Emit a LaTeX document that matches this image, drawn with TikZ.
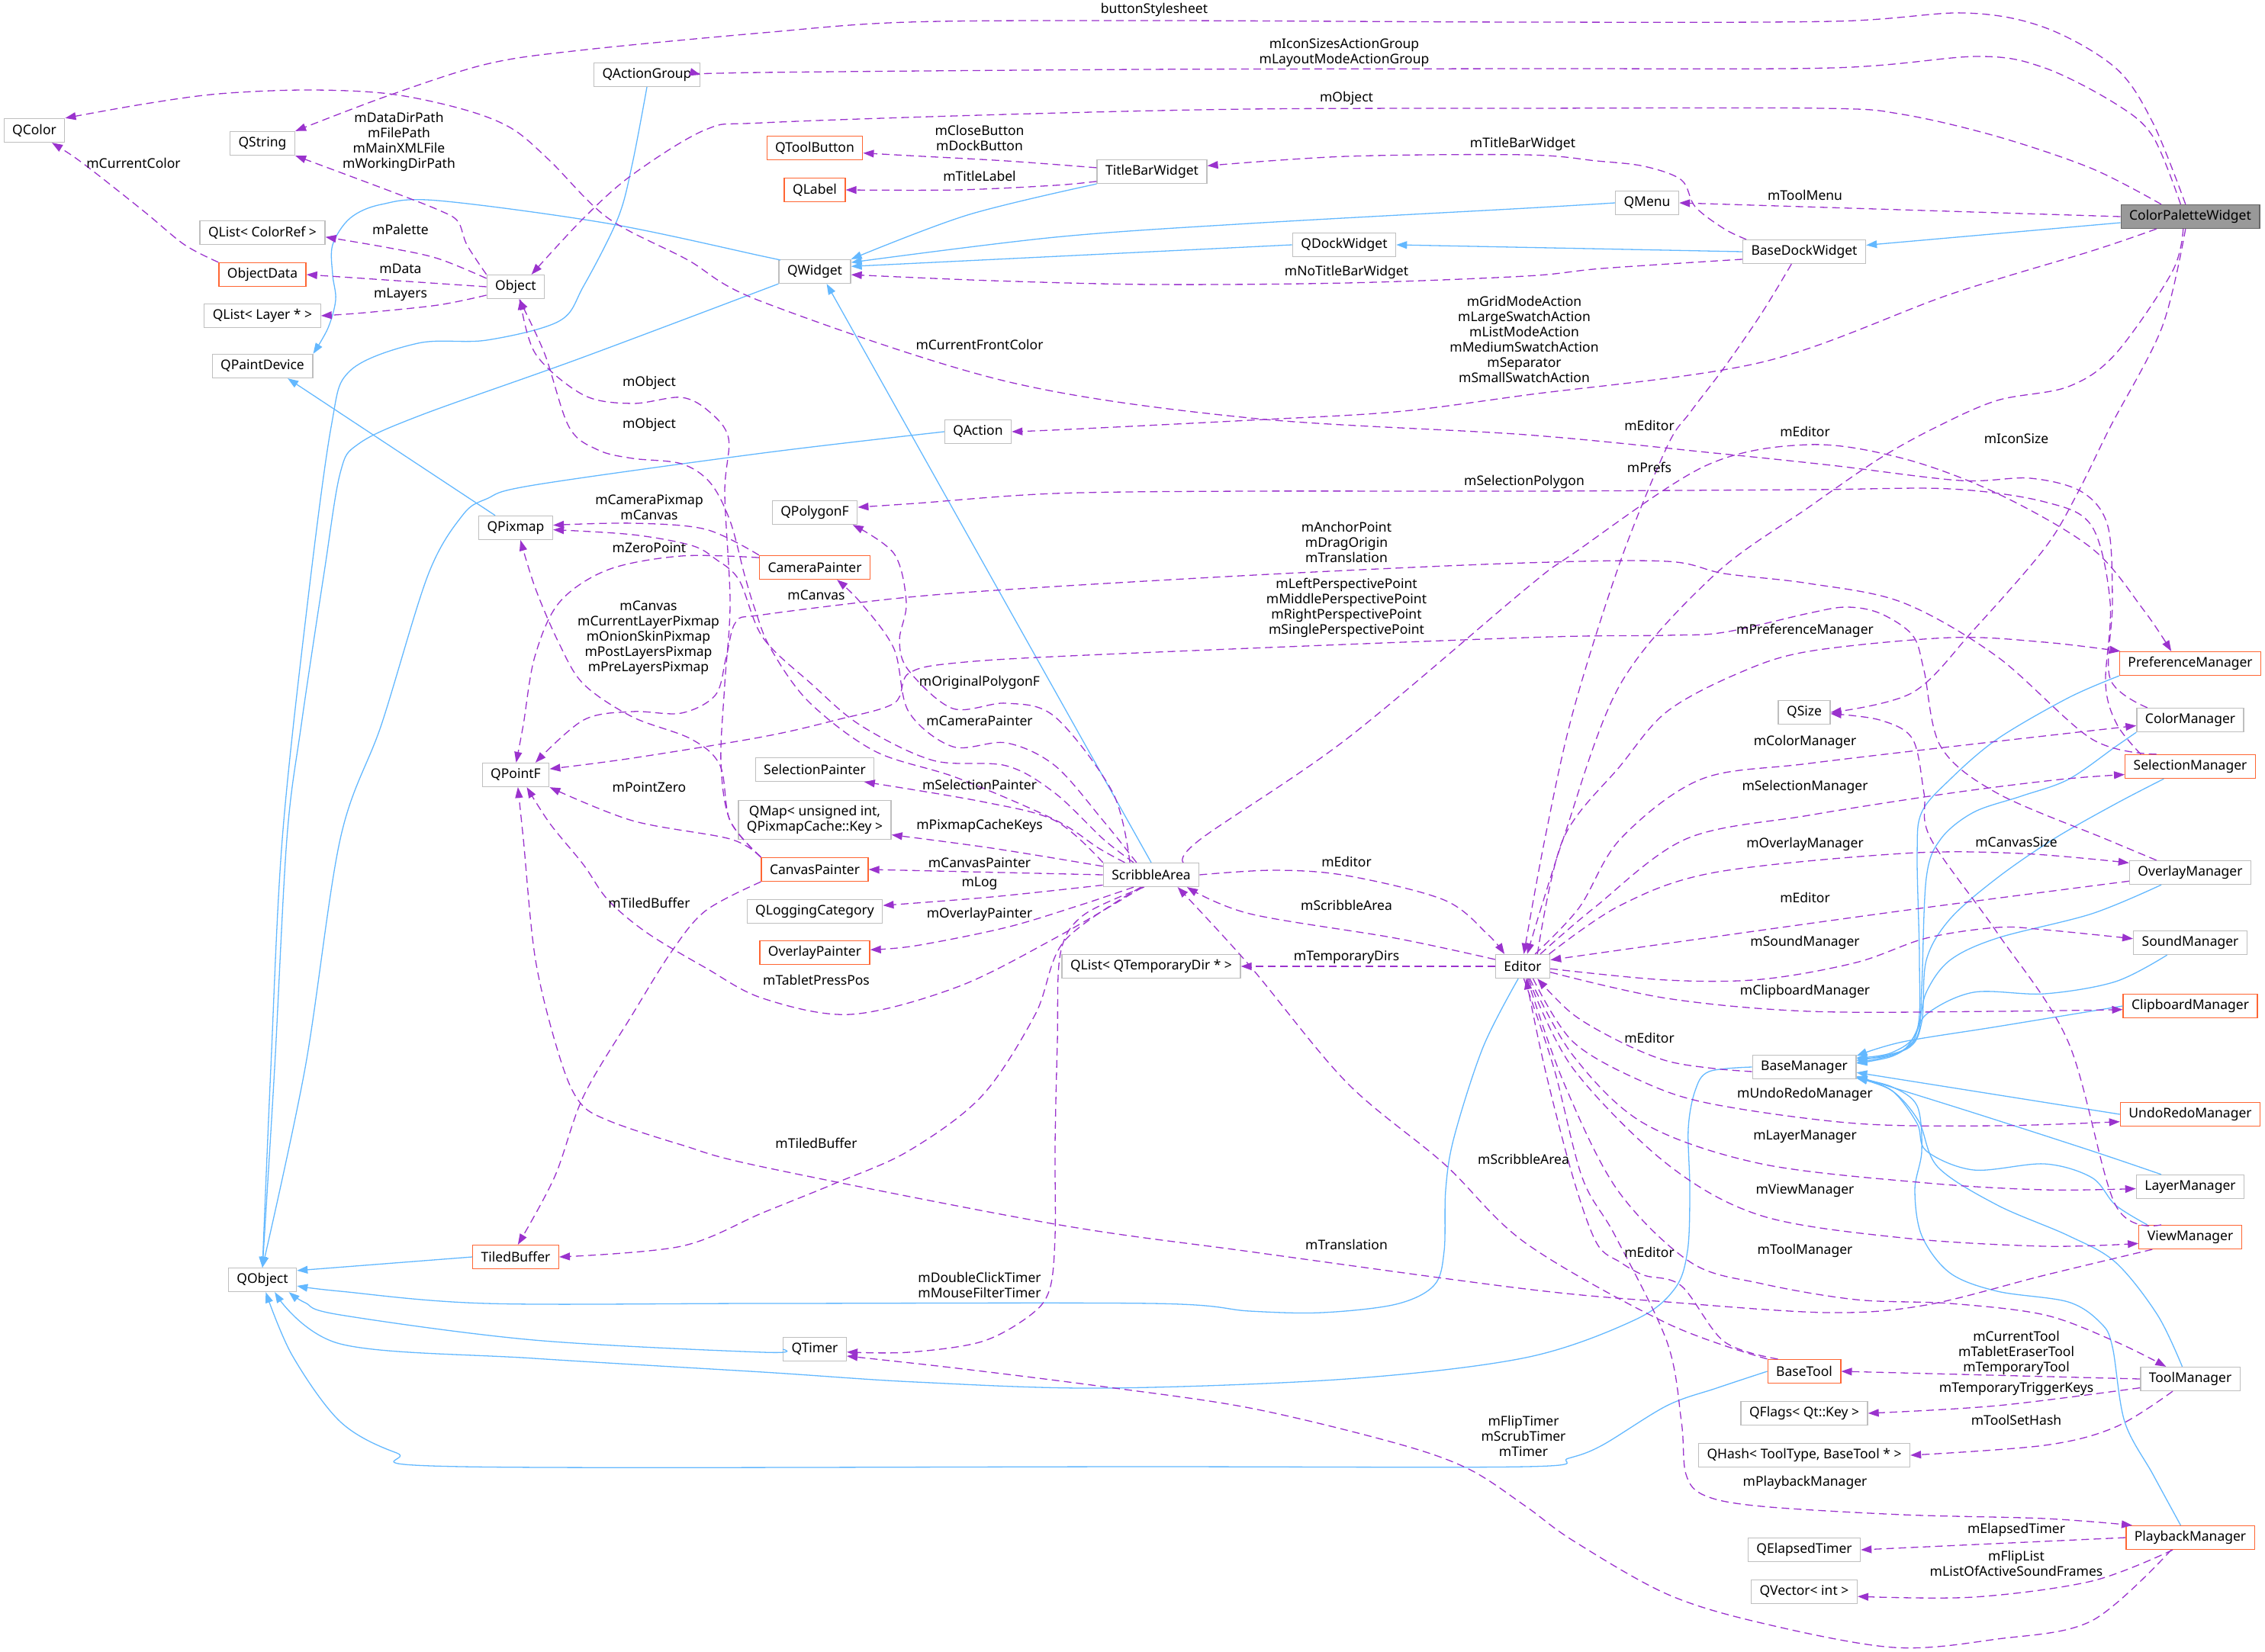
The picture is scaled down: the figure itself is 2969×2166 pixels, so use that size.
\documentclass[tikz,border=0pt]{standalone}
\usepackage{fontspec}
\newfontfamily\nf{Noto Sans}
\usetikzlibrary{arrows.meta,calc}
\definecolor{purp}{HTML}{9A32CD}
\definecolor{blu}{HTML}{63B8FF}
\definecolor{bgray}{HTML}{BFBFBF}
\definecolor{orng}{HTML}{FF6633}
\definecolor{rootfill}{HTML}{999999}
\definecolor{rootdraw}{HTML}{666666}
\begin{document}
\begin{tikzpicture}[x=0.5pt,y=-0.5pt,
 box/.style={draw=bgray, fill=white, line width=0.65pt, minimum height=15.5pt, inner xsep=5.5pt, inner ysep=0pt, font=\nf\fontsize{8.75}{10}\selectfont, align=center},
 obox/.style={box, draw=orng},
 rbox/.style={box, draw=rootdraw, fill=rootfill},
 usedge/.style={draw=purp, line width=0.65pt, dash pattern=on 5pt off 3pt, -{Triangle[length=7pt,width=5pt]}},
 inhedge/.style={draw=blu, line width=0.65pt, -{Triangle[length=7pt,width=5pt]}},
 lbl/.style={font=\nf\fontsize{8.75}{10}\selectfont, align=center, inner sep=0pt},
 sm/.style={smooth, tension=0.55}]
\useasboundingbox (0,0) rectangle (2969,2166);
% ---------------- nodes
\node[box] (qcolor) at (45,171) {QColor};
\node[box] (qstring) at (344,188) {QString};
\node[box] (qactiongroup) at (848,98) {QActionGroup};
\node[box] (qlistcolorref) at (344,305) {QList< ColorRef >};
\node[obox] (objectdata) at (344,360) {ObjectData};
\node[box] (object) at (676,376) {Object};
\node[box] (qlistlayer) at (344,414) {QList< Layer * >};
\node[box] (qpaintdevice) at (344,480) {QPaintDevice};
\node[obox] (qtoolbutton) at (1068,194) {QToolButton};
\node[obox] (qlabel) at (1068,249) {QLabel};
\node[box] (titlebar) at (1510,225) {TitleBarWidget};
\node[box] (qwidget) at (1068,356) {QWidget};
\node[box] (qdock) at (1762,321) {QDockWidget};
\node[box] (qmenu) at (2159,266) {QMenu};
\node[rbox] (cpw) at (2871,284) {ColorPaletteWidget};
\node[box] (bdw) at (2365,330) {BaseDockWidget};
\node[box] (qpixmap) at (676,692) {QPixmap};
\node[box] (qpointf) at (676,1016) {QPointF};
\node[box] (qaction) at (1282,566) {QAction};
\node[box] (qpolygonf) at (1068,672) {QPolygonF};
\node[obox] (camerapainter) at (1068,744) {CameraPainter};
\node[box] (selectionpainter) at (1068,1009) {SelectionPainter};
\node[box, minimum height=25.5pt] (qmap) at (1068,1075) {QMap< unsigned int,\\QPixmapCache::Key >};
\node[obox] (canvaspainter) at (1068,1140) {CanvasPainter};
\node[box] (qlogging) at (1068,1195) {QLoggingCategory};
\node[obox] (overlaypainter) at (1068,1249) {OverlayPainter};
\node[box] (scribble) at (1509,1147) {ScribbleArea};
\node[box] (qlisttemp) at (1509,1267) {QList< QTemporaryDir * >};
\node[box] (editor) at (1996,1267) {Editor};
\node[obox] (prefmgr) at (2871,870) {PreferenceManager};
\node[box] (qsize) at (2365,934) {QSize};
\node[box] (colormgr) at (2871,944) {ColorManager};
\node[obox] (selmgr) at (2871,1005) {SelectionManager};
\node[box] (overlaymgr) at (2871,1144) {OverlayManager};
\node[box] (soundmgr) at (2871,1236) {SoundManager};
\node[obox] (clipmgr) at (2871,1319) {ClipboardManager};
\node[box] (basemgr) at (2365,1399) {BaseManager};
\node[obox] (undomgr) at (2871,1461) {UndoRedoManager};
\node[box] (layermgr) at (2871,1556) {LayerManager};
\node[obox] (viewmgr) at (2871,1622) {ViewManager};
\node[obox] (basetool) at (2365,1798) {BaseTool};
\node[box] (toolmgr) at (2871,1808) {ToolManager};
\node[box] (qflags) at (2365,1853) {QFlags< Qt::Key >};
\node[box] (qhash) at (2365,1908) {QHash< ToolType, BaseTool * >};
\node[obox] (playmgr) at (2871,2016) {PlaybackManager};
\node[box] (qelapsed) at (2365,2032) {QElapsedTimer};
\node[box] (qvector) at (2365,2087) {QVector< int >};
\node[obox] (tiledbuffer) at (676,1648) {TiledBuffer};
\node[box] (qobject) at (344,1678) {QObject};
\node[box] (qtimer) at (1068,1769) {QTimer};
% ---------------- inheritance edges
\draw[inhedge] (cpw.185) -- (bdw.6);
\draw[inhedge] (bdw.west) -- (qdock.east);
\draw[inhedge] (qdock.west) -- (qwidget.8);
\draw[inhedge] plot[sm] coordinates {(qmenu.west) (2000,273) (1638,293) (1383,311) (qwidget.14)};
\draw[inhedge] plot[sm] coordinates {(titlebar.south west) (1268,282) (qwidget.north east)};
\draw[inhedge] (scribble.north) -- (qwidget.-46);
\draw[inhedge] plot[sm] coordinates {(qwidget.south west) (760,470) (550,545) (470,582) (446,620) (425,750) (395,950) (376,1100) (360,1400) (qobject.north)};
\draw[inhedge] plot[sm] coordinates {(qactiongroup.south) (829,214) (810,286) (765,375) (733,421) (638,446) (548,450) (459,486) (434,560) (402,800) (370,1100) (355,1400) (qobject.north)};
\draw[inhedge] plot[sm] coordinates {(qaction.west) (1000,594) (700,636) (638,654) (606,676) (561,754) (500,950) (446,1100) (400,1400) (qobject.north)};
\draw[inhedge] plot[sm] coordinates {(qwidget.162) (1000,336) (797,293) (574,263) (500,268) (459,286) (436,321) (436,360) (440,393) (430,430) (qpaintdevice.north east)};
\draw[inhedge] (qpixmap.149) -- (qpaintdevice.-26);
\draw[inhedge] (tiledbuffer.west) -- (qobject.15);
\draw[inhedge] plot[sm] coordinates {(qtimer.west) (1000,1773) (700,1757) (446,1724) (400,1708) (qobject.-25)};
\draw[inhedge] plot[sm] coordinates {(editor.-110) (1944,1373) (1906,1491) (1895,1560) (1893,1640) (1880,1685) (1830,1710) (1733,1721) (1638,1719) (1510,1709) (1000,1709) (638,1709) (446,1693) (qobject.-10)};
\draw[inhedge] plot[sm] coordinates {(basemgr.west) (2240,1405) (2222,1430) (2213,1480) (2215,1560) (2212,1640) (2195,1690) (2142,1731) (2000,1780) (1765,1808) (1446,1820) (1200,1812) (1000,1799) (700,1781) (446,1762) (qobject.-45)};
\draw[inhedge] plot[sm] coordinates {(basetool.west) (2250,1820) (2185,1843) (2100,1895) (2056,1912) (2000,1923) (1500,1923) (606,1923) (520,1905) (446,1864) (383,1777) (qobject.-75)};
% managers -> BaseManager
\draw[inhedge] plot[sm] coordinates {(prefmgr.south west) (2711,915) (2618,969) (2556,1022) (2519,1065) (2513,1120) (2516,1259) (2513,1350) (2480,1380) (basemgr.10)};
\draw[inhedge] plot[sm] coordinates {(colormgr.south west) (2773,979) (2711,1022) (2649,1044) (2587,1065) (2544,1100) (2525,1151) (2519,1294) (2513,1359) (2480,1383) (basemgr.9)};
\draw[inhedge] plot[sm] coordinates {(selmgr.-155) (2773,1054) (2692,1100) (2618,1151) (2556,1205) (2525,1259) (2519,1340) (2500,1375) (basemgr.7)};
\draw[inhedge] plot[sm] coordinates {(overlaymgr.-157) (2742,1198) (2618,1230) (2556,1259) (2525,1301) (2513,1350) (2490,1380) (basemgr.5)};
\draw[inhedge] plot[sm] coordinates {(soundmgr.-152) (2773,1287) (2680,1303) (2587,1301) (2525,1330) (2507,1366) (2480,1385) (basemgr.4)};
\draw[inhedge] plot[sm] coordinates {(clipmgr.west) (2618,1346) (2494,1366) (basemgr.12)};
\draw[inhedge] (undomgr.west) -- (basemgr.-6);
\draw[inhedge] plot[sm] coordinates {(layermgr.157) (2742,1509) (2587,1459) (basemgr.-10)};
\draw[inhedge] plot[sm] coordinates {(viewmgr.164) (2773,1580) (2742,1544) (2680,1526) (2587,1534) (2525,1509) (2513,1473) (2480,1430) (basemgr.-11)};
\draw[inhedge] plot[sm] coordinates {(toolmgr.123) (2828,1724) (2773,1655) (2711,1620) (2618,1580) (2540,1530) (2515,1470) (2480,1430) (basemgr.-12)};
\draw[inhedge] plot[sm] coordinates {(playmgr.128) (2822,1933) (2785,1864) (2769,1766) (2754,1735) (2711,1707) (2618,1693) (2556,1669) (2519,1620) (2510,1560) (2519,1509) (2513,1450) (2480,1425) (basemgr.-12.5)};
% ---------------- usage edges
\draw[usedge] plot[sm] coordinates {(cpw.111) (2822,161) (2773,89) (2680,36) (2575,17) (2402,28) (2000,29) (1510,27) (1191,29) (1000,43) (760,66) (638,84) (510,125) (qstring.north east)};
\draw[usedge] plot[sm] coordinates {(cpw.128) (2822,179) (2773,136) (2680,89) (2593,74) (2402,89) (2000,90) (1500,91) (1000,95) (qactiongroup.east)};
\draw[usedge] plot[sm] coordinates {(cpw.157) (2742,221) (2618,179) (2494,150) (2389,142) (2000,142) (1638,143) (1319,150) (1000,161) (925,170) (829,229) (765,286) (object.38)};
\draw[usedge] plot[sm] coordinates {(objectdata.north west) (242,321) (191,279) (128,229) (96,205) (qcolor.-35)};
\draw[usedge] plot[sm] coordinates {(object.north west) (612,321) (600,290) (574,275) (510,250) (qstring.south east)};
\draw[usedge] plot[sm] coordinates {(object.164) (574,339) (510,325) (qlistcolorref.-4)};
\draw[usedge] (object.west) -- (objectdata.east);
\draw[usedge] plot[sm] coordinates {(object.-164) (574,400) (478,410) (qlistlayer.east)};
\draw[usedge] plot[sm] coordinates {(colormgr.164) (2766,890) (2769,790) (2763,690) (2729,645) (2661,627) (2569,630) (2400,610) (2247,594) (2000,570) (1638,548) (1319,500) (1000,396) (900,340) (797,286) (720,210) (670,168) (606,143) (510,123) (402,118) (287,123) (191,136) (qcolor.north east)};
\draw[usedge] plot[sm] coordinates {(titlebar.176) (1319,211) (1191,204) (qtoolbutton.-6)};
\draw[usedge] plot[sm] coordinates {(titlebar.-170) (1383,243) (1255,249) (qlabel.east)};
\draw[usedge] plot[sm] coordinates {(bdw.168) (2260,300) (2222,271) (2204,236) (2155,218) (2093,211) (2000,203) (1765,205) (titlebar.6)};
\draw[usedge] (cpw.west) -- (qmenu.east);
\draw[usedge] plot[sm] coordinates {(bdw.-173) (2100,352) (2000,362) (1765,371) (1510,373) (1300,368) (qwidget.-5)};
\draw[usedge] plot[sm] coordinates {(cpw.-160) (2742,329) (2556,386) (2309,475) (2000,518) (1829,540) (1638,551) (1400,563) (qaction.east)};
\draw[usedge] plot[sm] coordinates {(cpw.-120) (2847,357) (2773,464) (2711,507) (2618,525) (2538,560) (2464,601) (2371,665) (2247,754) (2124,897) (2049,1100) (editor.70)};
\draw[usedge] plot[sm] coordinates {(bdw.-136) (2309,411) (2260,482) (2216,540) (2185,586) (2124,736) (2062,933) (2025,1100) (editor.85)};
\draw[usedge] plot[sm] coordinates {(cpw.-111) (2834,429) (2766,560) (2723,647) (2680,719) (2587,826) (2507,908) (qsize.east)};
\draw[usedge] plot[sm] coordinates {(scribble.21) (1574,1100) (1765,969) (2000,772) (2062,726) (2235,611) (2371,583) (2494,601) (2618,647) (2742,719) (2810,800) (prefmgr.147)};
\draw[usedge] plot[sm] coordinates {(selmgr.166) (2775,950) (2760,897) (2766,790) (2742,690) (2680,658) (2556,641) (2371,642) (2000,644) (1638,644) (1383,647) (1200,660) (qpolygonf.7)};
\draw[usedge] plot[sm] coordinates {(selmgr.160) (2742,969) (2618,861) (2494,790) (2371,765) (2260,752) (2185,736) (2000,738) (1702,751) (1383,769) (1191,783) (1000,806) (965,815) (952,861) (938,911) (893,935) (829,933) (765,944) (qpointf.32)};
\draw[usedge] plot[sm] coordinates {(overlaymgr.160) (2760,1100) (2618,1040) (2544,979) (2522,879) (2507,833) (2464,804) (2420,796) (2371,804) (2260,829) (2185,833) (2000,836) (1446,858) (1255,869) (1191,883) (1172,922) (1096,944) (1000,966) (829,994) (qpointf.10)};
\draw[usedge] plot[sm] coordinates {(editor.40) (2049,1100) (2124,1004) (2185,933) (2278,883) (2371,854) (2556,836) (2680,842) (prefmgr.170)};
\draw[usedge] plot[sm] coordinates {(scribble.150) (1459,1040) (1383,940) (1319,922) (1249,929) (1191,879) (1179,840) (1188,790) (1172,726) (qpolygonf.-18)};
\draw[usedge] plot[sm] coordinates {(scribble.140) (1446,1076) (1383,1004) (1319,974) (1249,979) (1191,933) (1172,851) (1128,790) (camerapainter.-29)};
\draw[usedge] plot[sm] coordinates {(scribble.145) (1446,1100) (1383,1040) (1319,1004) (1223,997) (1128,951) (1064,897) (1000,836) (969,761) (938,733) (906,715) (829,701) (qpixmap.-3)};
\draw[usedge] plot[sm] coordinates {(scribble.155) (1440,1112) (1383,1075) (1255,1020) (1147,985) (1060,920) (1010,850) (990,800) (976,754) (957,683) (931,633) (893,608) (829,601) (784,590) (746,560) (714,464) (object.-75)};
\draw[usedge] plot[sm] coordinates {(camerapainter.north west) (925,694) (829,686) (qpixmap.4)};
\draw[usedge] plot[sm] coordinates {(camerapainter.170) (893,729) (797,747) (733,790) (701,861) (686,950) (qpointf.88)};
\draw[usedge] plot[sm] coordinates {(canvaspainter.north west) (957,1076) (945,1000) (950,897) (957,790) (950,647) (955,575) (930,540) (893,521) (829,529) (765,518) (702,464) (object.-70)};
\draw[usedge] plot[sm] coordinates {(canvaspainter.north west) (957,1076) (944,1004) (906,969) (829,940) (765,897) (733,844) (702,772) (qpixmap.-69)};
\draw[usedge] plot[sm] coordinates {(canvaspainter.north west) (957,1100) (829,1076) (qpointf.south east)};
\draw[usedge] plot[sm] coordinates {(canvaspainter.south west) (925,1194) (880,1248) (829,1330) (765,1437) (727,1543) (tiledbuffer.80)};
\draw[usedge] plot[sm] coordinates {(scribble.-130) (1395,1234) (1357,1330) (1287,1437) (1191,1509) (1096,1551) (1000,1590) (893,1634) (tiledbuffer.east)};
\draw[usedge] plot[sm] coordinates {(scribble.north west) (1383,1076) (1287,1051) (selectionpainter.-14)};
\draw[usedge] plot[sm] coordinates {(scribble.170) (1300,1112) (qmap.-11)};
\draw[usedge] (scribble.west) -- (canvaspainter.east);
\draw[usedge] plot[sm] coordinates {(scribble.-168) (1300,1176) (qlogging.5)};
\draw[usedge] plot[sm] coordinates {(scribble.-145) (1415,1187) (1319,1216) (1200,1240) (overlaypainter.3)};
\draw[usedge] plot[sm] coordinates {(scribble.-125) (1383,1230) (1255,1294) (1115,1330) (1000,1309) (925,1269) (848,1223) (797,1180) (765,1134) (721,1080) (qpointf.-48)};
\draw[usedge] plot[sm] coordinates {(viewmgr.-162) (2680,1672) (2525,1711) (2396,1721) (2185,1707) (2000,1690) (1638,1641) (1383,1605) (1000,1530) (893,1501) (797,1469) (759,1444) (733,1384) (702,1259) (686,1100) (qpointf.-80)};
\draw[usedge] plot[sm] coordinates {(scribble.-120) (1420,1200) (1390,1250) (1386,1366) (1383,1500) (1383,1620) (1376,1690) (1351,1724) (1287,1759) (1191,1773) (qtimer.-5)};
\draw[usedge] plot[sm] coordinates {(playmgr.-147) (2742,2125) (2618,2149) (2482,2160) (2309,2128) (2185,2090) (2062,2020) (2000,1975) (1925,1926) (1829,1892) (1638,1846) (1446,1818) (1255,1794) (qtimer.-12)};
\draw[usedge] plot[sm] coordinates {(scribble.east) (1670,1141) (1765,1148) (1893,1180) (1950,1225) (editor.146)};
\draw[usedge] plot[sm] coordinates {(editor.166) (1829,1230) (1638,1198) (scribble.-19)};
\draw[usedge] (editor.west) -- (qlisttemp.east);
\draw[usedge] plot[sm] coordinates {(editor.45) (2070,1190) (2124,1100) (2229,1022) (2371,1001) (2618,972) (colormgr.-174)};
\draw[usedge] plot[sm] coordinates {(editor.35) (2090,1190) (2210,1100) (2371,1069) (2556,1040) (2700,1022) (selmgr.-173)};
\draw[usedge] plot[sm] coordinates {(editor.25) (2124,1187) (2247,1144) (2494,1119) (2649,1119) (overlaymgr.171)};
\draw[usedge] plot[sm] coordinates {(overlaymgr.-172) (2494,1194) (2185,1237) (editor.13)};
\draw[usedge] plot[sm] coordinates {(editor.-5) (2185,1285) (2309,1284) (2433,1262) (2525,1230) (2618,1216) (2680,1219) (soundmgr.176)};
\draw[usedge] plot[sm] coordinates {(editor.-12) (2185,1309) (2371,1326) (2618,1326) (clipmgr.-177)};
\draw[usedge] plot[sm] coordinates {(basemgr.-175) (2247,1401) (2185,1391) (2124,1366) (2062,1330) (editor.-40)};
\draw[usedge] plot[sm] coordinates {(editor.-50) (2062,1366) (2155,1419) (2247,1448) (2433,1473) (2618,1476) (undomgr.-174)};
\draw[usedge] plot[sm] coordinates {(editor.-60) (2062,1384) (2155,1473) (2309,1526) (2525,1551) (2680,1560) (layermgr.-178)};
\draw[usedge] plot[sm] coordinates {(editor.-65) (2062,1401) (2185,1526) (2309,1594) (2494,1623) (2680,1634) (viewmgr.-173)};
\draw[usedge] plot[sm] coordinates {(editor.-70) (2050,1420) (2120,1560) (2216,1655) (2309,1683) (2433,1704) (2556,1709) (2680,1724) (2773,1759) (toolmgr.153)};
\draw[usedge] plot[sm] coordinates {(basetool.155) (2260,1759) (2204,1686) (2155,1672) (2124,1655) (2093,1630) (2062,1544) (2025,1401) (editor.-75)};
\draw[usedge] plot[sm] coordinates {(basetool.north west) (2185,1735) (2000,1630) (1893,1526) (1765,1419) (1638,1266) (scribble.-25)};
\draw[usedge] (toolmgr.west) -- (basetool.east);
\draw[usedge] plot[sm] coordinates {(toolmgr.-170) (2618,1843) (qflags.east)};
\draw[usedge] plot[sm] coordinates {(toolmgr.-145) (2773,1871) (2680,1895) (qhash.east)};
\draw[usedge] plot[sm] coordinates {(editor.-85) (2037,1401) (2074,1544) (2117,1620) (2185,1759) (2204,1864) (2210,1933) (2235,1961) (2309,1975) (2494,1986) (2680,1991) (playmgr.168)};
\draw[usedge] (playmgr.west) -- (qelapsed.east);
\draw[usedge] plot[sm] coordinates {(playmgr.-145) (2742,2073) (2587,2094) (qvector.-5)};
\draw[usedge] plot[sm] coordinates {(viewmgr.157) (2773,1580) (2711,1366) (2618,1223) (2531,1100) (2522,1040) (2507,969) (2464,944) (qsize.-3)};
% ---------------- labels
\node[lbl] (l01) at (1513,13) {buttonStylesheet};
\node[lbl] (l02) at (1762,69) {mIconSizesActionGroup\\mLayoutModeActionGroup};
\node[lbl] (l03) at (1765,129) {mObject};
\node[lbl] (l04) at (1284,181) {mCloseButton\\mDockButton};
\node[lbl] (l05) at (1996,189) {mTitleBarWidget};
\node[lbl] (l06) at (1284,231) {mTitleLabel};
\node[lbl] (l07) at (523,186) {mDataDirPath\\mFilePath\\mMainXMLFile\\mWorkingDirPath};
\node[lbl] (l08) at (175,214) {mCurrentColor};
\node[lbl] (l09) at (2366,256) {mToolMenu};
\node[lbl] (l10) at (525,301) {mPalette};
\node[lbl] (l11) at (525,352) {mData};
\node[lbl] (l12) at (525,386) {mLayers};
\node[lbl] (l13) at (1765,357) {mNoTitleBarWidget};
\node[lbl] (l14) at (1998,445) {mGridModeAction\\mLargeSwatchAction\\mListModeAction\\mMediumSwatchAction\\mSeparator\\mSmallSwatchAction};
\node[lbl] (l15) at (1284,452) {mCurrentFrontColor};
\node[lbl] (l16) at (851,502) {mObject};
\node[lbl] (l17) at (851,557) {mObject};
\node[lbl] (l18) at (2162,558) {mEditor};
\node[lbl] (l19) at (2366,566) {mEditor};
\node[lbl] (l20) at (2643,575) {mIconSize};
\node[lbl] (l21) at (2162,613) {mPrefs};
\node[lbl] (l22) at (1998,632) {mSelectionPolygon};
\node[lbl] (l23) at (851,665) {mCameraPixmap\\mCanvas};
\node[lbl] (l24) at (1765,711) {mAnchorPoint\\mDragOrigin\\mTranslation};
\node[lbl] (l25) at (851,718) {mZeroPoint};
\node[lbl] (l26) at (1765,797) {mLeftPerspectivePoint\\mMiddlePerspectivePoint\\mRightPerspectivePoint\\mSinglePerspectivePoint};
\node[lbl] (l27) at (2366,827) {mPreferenceManager};
\node[lbl] (l28) at (1070,780) {mCanvas};
\node[lbl] (l29) at (850,836) {mCanvas\\mCurrentLayerPixmap\\mOnionSkinPixmap\\mPostLayersPixmap\\mPreLayersPixmap};
\node[lbl] (l30) at (1284,895) {mOriginalPolygonF};
\node[lbl] (l31) at (1284,945) {mCameraPainter};
\node[lbl] (l32) at (2366,973) {mColorManager};
\node[lbl] (l33) at (1284,1029) {mSelectionPainter};
\node[lbl] (l34) at (2366,1032) {mSelectionManager};
\node[lbl] (l35) at (851,1032) {mPointZero};
\node[lbl] (l36) at (1284,1083) {mPixmapCacheKeys};
\node[lbl] (l37) at (2643,1104) {mCanvasSize};
\node[lbl] (l38) at (2366,1107) {mOverlayManager};
\node[lbl] (l39) at (1284,1131) {mCanvasPainter};
\node[lbl] (l40) at (1765,1130) {mEditor};
\node[lbl] (l41) at (1284,1158) {mLog};
\node[lbl] (l42) at (2366,1177) {mEditor};
\node[lbl] (l43) at (851,1184) {mTiledBuffer};
\node[lbl] (l44) at (1765,1187) {mScribbleArea};
\node[lbl] (l45) at (1284,1199) {mOverlayPainter};
\node[lbl] (l46) at (2366,1236) {mSoundManager};
\node[lbl] (l47) at (1765,1255) {mTemporaryDirs};
\node[lbl] (l48) at (1070,1285) {mTabletPressPos};
\node[lbl] (l49) at (2366,1300) {mClipboardManager};
\node[lbl] (l50) at (2162,1361) {mEditor};
\node[lbl] (l51) at (2366,1435) {mUndoRedoManager};
\node[lbl] (l52) at (2366,1490) {mLayerManager};
\node[lbl] (l53) at (1070,1499) {mTiledBuffer};
\node[lbl] (l54) at (1997,1520) {mScribbleArea};
\node[lbl] (l55) at (2366,1561) {mViewManager};
\node[lbl] (l56) at (1765,1632) {mTranslation};
\node[lbl] (l57) at (2162,1642) {mEditor};
\node[lbl] (l58) at (2366,1640) {mToolManager};
\node[lbl] (l59) at (1284,1685) {mDoubleClickTimer\\mMouseFilterTimer};
\node[lbl] (l60) at (2643,1774) {mCurrentTool\\mTabletEraserTool\\mTemporaryTool};
\node[lbl] (l61) at (2643,1821) {mTemporaryTriggerKeys};
\node[lbl] (l62) at (2643,1862) {mToolSetHash};
\node[lbl] (l63) at (1997,1883) {mFlipTimer\\mScrubTimer\\mTimer};
\node[lbl] (l64) at (2366,1944) {mPlaybackManager};
\node[lbl] (l65) at (2643,2006) {mElapsedTimer};
\node[lbl] (l66) at (2643,2050) {mFlipList\\mListOfActiveSoundFrames};
\end{tikzpicture}
\end{document}
